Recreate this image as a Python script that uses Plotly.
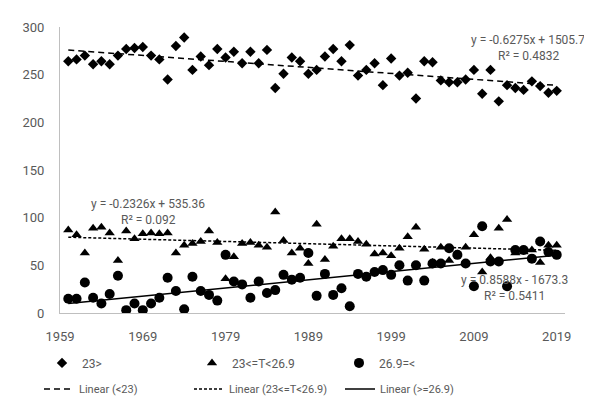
import plotly.graph_objects as go

years = list(range(1960, 2020))

# < 23 (diamonds)
low = [264, 266, 270, 261, 264, 261, 270, 277, 278, 279,
       270, 266, 245, 280, 289, 255, 269, 260, 277, 268,
       274, 262, 274, 262, 276, 236, 251, 268, 264, 251,
       255, 269, 277, 264, 281, 249, 255, 262, 239, 267,
       249, 252, 225, 264, 263, 244, 242, 242, 245, 255,
       230, 255, 222, 239, 236, 234, 243, 238, 231, 233]

# 23 <= T < 26.9 (triangles)
mid = [87, 82, 63, 89, 90, 84, 55, 86, 78, 83,
       84, 83, 84, 63, 71, 73, 75, 86, 74, 36,
       59, 73, 74, 71, 69, 106, 76, 63, 68, 52,
       93, 56, 70, 78, 78, 75, 72, 62, 63, 60,
       68, 80, 90, 67, 53, 69, 55, 62, 69, 82,
       43, 58, 89, 98, 63, 64, 66, 53, 71, 71]

# >= 26.9 (circles)
high = [15, 15, 32, 16, 10, 20, 39, 3, 10, 3,
        10, 16, 37, 23, 4, 38, 23, 19, 13, 61,
        33, 30, 16, 33, 21, 24, 40, 35, 37, 63,
        18, 41, 19, 26, 7, 41, 38, 43, 45, 40,
        50, 34, 50, 34, 52, 52, 68, 61, 52, 28,
        91, 54, 54, 28, 66, 66, 57, 75, 64, 61]

series_names = ["23>", "23<=T<26.9", "26.9=<"]
trend_names = ["Linear (<23)", "Linear (23<=T<26.9)", "Linear (>=26.9)"]
slopes = [-0.6275, -0.2326, 0.8588]
intercepts = [1505.7, 535.36, -1673.3]
r2 = [0.4832, 0.092, 0.5411]
x_ticks = [1959, 1969, 1979, 1989, 1999, 2009, 2019]
y_ticks = [0, 50, 100, 150, 200, 250, 300]

FONT = "Roboto"
GRAY = "#595959"
L, T, W, H = 52, 13, 505, 307

fig = go.Figure()
symbols = ["diamond", "triangle-up", "circle"]
sizes = [8, 9, 10]
legend_layout = {}
marker_leg_x = [34, 184, 331]
for i, (name, vals, sym, sz) in enumerate(zip(series_names, [low, mid, high], symbols, sizes)):
    key = "legend" if i == 0 else f"legend{i + 1}"
    fig.add_trace(go.Scatter(x=years, y=vals, mode="markers", name=name,
                             marker=dict(symbol=sym, size=sz, color="black"),
                             legend=key, showlegend=True))
    legend_layout[key] = dict(orientation="h", x=(marker_leg_x[i] - L) / W,
                              y=1 - (358 - T) / H, xanchor="left", yanchor="top",
                              font=dict(family=FONT, size=12, color=GRAY),
                              bgcolor="rgba(0,0,0,0)")

dashes = ["6px,4px", "3px,2px", "solid"]
line_leg_x = [31, 181, 332]
x_ends = [years[0], years[-1]]
for i, (name, m, b, d) in enumerate(zip(trend_names, slopes, intercepts, dashes)):
    key = f"legend{i + 4}"
    fig.add_trace(go.Scatter(x=x_ends, y=[m * x + b for x in x_ends], mode="lines",
                             name=name, line=dict(color="black", width=1.5, dash=d),
                             legend=key, showlegend=True))
    legend_layout[key] = dict(orientation="h", x=(line_leg_x[i] - L) / W,
                              y=1 - (386 - T) / H, xanchor="left", yanchor="top",
                              font=dict(family=FONT, size=11, color=GRAY),
                              bgcolor="rgba(0,0,0,0)")

def eq_text(m, b):
    sign = "+" if b >= 0 else "-"
    return f"y = {m:g}x {sign} {abs(b):g}"

ann_pos = [(520, 27), (140, 203), (506, 285)]
for (px, py), m, b, r in zip(ann_pos, slopes, intercepts, r2):
    fig.add_annotation(x=(px - L) / W, y=1 - (py - T) / H, xref="paper", yref="paper",
                       text=eq_text(m, b), showarrow=False,
                       xanchor="center", yanchor="middle",
                       font=dict(family=FONT, size=12, color=GRAY))
    fig.add_annotation(x=(px - L) / W, y=1 - (py + 17 - T) / H, xref="paper", yref="paper",
                       text=f"R² = {r:g}", showarrow=False,
                       xanchor="center", yanchor="middle",
                       font=dict(family=FONT, size=12, color=GRAY))

fig.update_layout(
    width=592, height=407, showlegend=True,
    margin=dict(l=L, r=592 - L - W, t=T, b=407 - T - H),
    paper_bgcolor="white", plot_bgcolor="white",
    font=dict(family=FONT, size=13, color=GRAY),
    xaxis=dict(range=[1959, 2020], tickvals=x_ticks, showgrid=False, zeroline=False,
               showline=True, linecolor="#bfbfbf", linewidth=1, ticks="",
               ticklabelstandoff=11, tickfont=dict(size=13, color=GRAY)),
    yaxis=dict(range=[0, 300], tickvals=y_ticks, showgrid=False, zeroline=False,
               showline=True, linecolor="#bfbfbf", linewidth=1, ticks="",
               ticklabelstandoff=12, tickfont=dict(size=13, color=GRAY)),
    **legend_layout,
)

fig.write_html("out.html")
